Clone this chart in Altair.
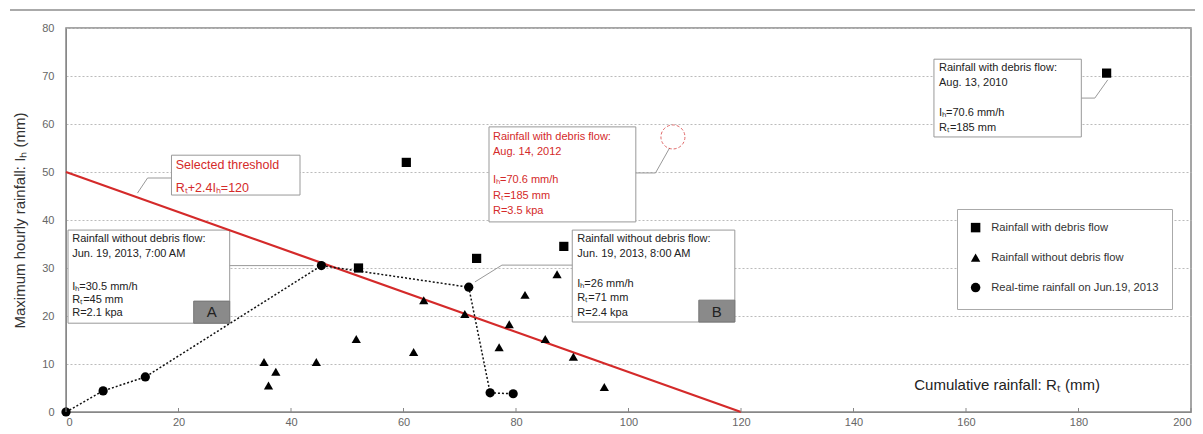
import altair as alt
import pandas as pd

# ---------------- data ----------------
debris_x = [60.5, 52.0, 73.0, 88.5, 185.0]
debris_y = [52.0, 30.0, 32.0, 34.5, 70.6]

nodebris_x = [35.2, 37.3, 36.0, 44.5, 51.6, 61.8, 63.6, 70.9, 77.0, 78.8, 81.6, 85.2, 87.3, 90.2, 95.7]
nodebris_y = [10.4, 8.4, 5.5, 10.4, 15.2, 12.5, 23.3, 20.4, 13.5, 18.3, 24.4, 15.2, 28.7, 11.5, 5.2]

realtime_x = [0.0, 6.6, 14.1, 45.4, 71.6, 75.4, 79.5]
realtime_y = [0.0, 4.4, 7.3, 30.5, 26.0, 4.0, 3.8]

threshold_x = [0, 120]
threshold_y = [50, 0]

series_names = ["Rainfall with debris flow", "Rainfall without debris flow",
                "Real-time rainfall on Jun.19, 2013"]

x_ticks = list(range(0, 201, 20))
y_ticks = list(range(0, 81, 10))

RED = "#d42a2a"
DARK = "#222222"

# annotation boxes
box_x = [0.36, 18.75, 75.2, 90.0, 154.3]
box_x2 = [29.1, 41.6, 101.3, 118.9, 180.5]
box_y = [37.9, 53.5, 59.4, 37.9, 73.5]
box_y2 = [18.5, 45.2, 39.6, 18.75, 57.3]

tag_x = [22.7, 112.5]
tag_x2 = [29.1, 118.9]
tag_y = [23.1, 23.3]
tag_y2 = [18.5, 18.75]
tag_text = ["A", "B"]
tag_cx = [25.9, 115.7]
tag_cy = [20.8, 20.9]

# annotation text lines
ann_text = [
    "Rainfall without debris flow:", "Jun. 19, 2013, 7:00 AM",
    "Iₕ=30.5 mm/h", "Rₜ=45 mm", "R=2.1 kpa",
    "Selected threshold", "Rₜ+2.4Iₕ=120",
    "Rainfall with debris flow:", "Aug. 14, 2012",
    "Iₕ=70.6 mm/h", "Rₜ=185 mm", "R=3.5 kpa",
    "Rainfall without debris flow:", "Jun. 19, 2013, 8:00 AM",
    "Iₕ=26 mm/h", "Rₜ=71 mm", "R=2.4 kpa",
    "Rainfall with debris flow:", "Aug. 13, 2010",
    "Iₕ=70.6 mm/h", "Rₜ=185 mm",
]
ann_x = [1.1] * 5 + [19.5] * 2 + [75.9] * 5 + [90.9] * 5 + [155.2] * 4
ann_y = [36.04, 32.92, 26.04, 23.33, 20.63,
         51.46, 46.67,
         57.29, 54.17, 48.33, 45.0, 41.88,
         36.04, 32.92, 26.67, 23.75, 20.63,
         71.67, 68.54, 62.29, 59.17]
ann_color = [DARK] * 5 + [RED] * 2 + [RED] * 5 + [DARK] * 5 + [DARK] * 4
ann_size = [11] * 5 + [12.5] * 2 + [11] * 14

# leader line segments
seg_x = [18.75, 14.5, 29.1, 101.3, 104.8, 90.0, 77.5, 180.5, 182.9]
seg_y = [48.75, 48.75, 30.5, 49.8, 49.8, 30.6, 30.6, 65.4, 65.4]
seg_x2 = [14.5, 12.7, 44.0, 104.8, 107.3, 77.5, 72.7, 182.9, 185.2]
seg_y2 = [48.75, 45.6, 30.5, 49.8, 55.0, 30.6, 27.1, 65.4, 69.2]

circle_x = [107.9]
circle_y = [57.3]

# ---------------- tables ----------------
pts = pd.DataFrame({
    "x": debris_x + nodebris_x + realtime_x,
    "y": debris_y + nodebris_y + realtime_y,
    "type": [series_names[0]] * len(debris_x) + [series_names[1]] * len(nodebris_x)
            + [series_names[2]] * len(realtime_x),
})
rt = pd.DataFrame({"x": realtime_x, "y": realtime_y, "order": list(range(len(realtime_x)))})
thr = pd.DataFrame({"x": threshold_x, "y": threshold_y})
boxes = pd.DataFrame({"x": box_x, "x2": box_x2, "y": box_y, "y2": box_y2})
tags = pd.DataFrame({"x": tag_x, "x2": tag_x2, "y": tag_y, "y2": tag_y2})
tag_lbl = pd.DataFrame({"x": tag_cx, "y": tag_cy, "t": tag_text})
ann = pd.DataFrame({"x": ann_x, "y": ann_y, "t": ann_text, "c": ann_color, "s": ann_size})
segs = pd.DataFrame({"x": seg_x, "y": seg_y, "x2": seg_x2, "y2": seg_y2})
circ = pd.DataFrame({"x": circle_x, "y": circle_y})
xt = pd.DataFrame({"x": x_ticks})
xtitle = pd.DataFrame({"x": [167.3], "y": [5.6], "t": ["Cumulative rainfall: Rₜ (mm)"]})

FONT = "Liberation Sans"

xs = alt.Scale(domain=[0, 200], nice=False, zero=False)
ys = alt.Scale(domain=[0, 80], nice=False, zero=False)

x_axis = alt.Axis(values=x_ticks, grid=False, ticks=False, labelColor="#666",
                  labelFontSize=11, labelFont=FONT, labelPadding=4,
                  domainColor="#888", title=None)
y_axis = alt.Axis(values=y_ticks, grid=True, gridDash=[2, 2], gridColor="#bbbbbb",
                  ticks=False, labelColor="#666", labelFontSize=11, labelFont=FONT,
                  labelPadding=12, domainColor="#888",
                  title="Maximum hourly rainfall: Iₕ (mm)", titleFont=FONT,
                  titleFontSize=15, titleFontWeight="normal", titleColor="#333",
                  titlePadding=14)

X = alt.X("x:Q", scale=xs, axis=x_axis)
Y = alt.Y("y:Q", scale=ys, axis=y_axis)

base_rect = alt.Chart(boxes).mark_rect(fill="white", stroke="#999", strokeWidth=1).encode(
    x=X, x2="x2:Q", y=Y, y2="y2:Q")

tag_rect = alt.Chart(tags).mark_rect(fill="#8a8a8a", stroke="#777").encode(
    x=X, x2="x2:Q", y=Y, y2="y2:Q")

tag_txt = alt.Chart(tag_lbl).mark_text(font=FONT, fontSize=15, color=DARK,
                                       align="center", baseline="middle").encode(
    x=X, y=Y, text="t:N")

seg_layer = alt.Chart(segs).mark_rule(color="#999", strokeWidth=1).encode(
    x=X, y=Y, x2="x2:Q", y2="y2:Q")

thr_line = alt.Chart(thr).mark_line(color=RED, strokeWidth=2.2).encode(x=X, y=Y)

rt_line = alt.Chart(rt).mark_line(color="#111", strokeWidth=1.5, strokeDash=[2, 2]).encode(
    x=X, y=Y, order="order:Q")

points = alt.Chart(pts).mark_point(filled=True, opacity=1, color="black", size=85).encode(
    x=X, y=Y,
    shape=alt.Shape("type:N",
                    scale=alt.Scale(domain=series_names,
                                    range=["square", "triangle-up", "circle"]),
                    legend=alt.Legend(orient="none", legendX=891, legendY=181, title=None,
                                      padding=13, rowPadding=14, strokeColor="#aaa",
                                      fillColor="white", labelFont=FONT, labelFontSize=11.2,
                                      labelColor="#333", labelOffset=10, labelLimit=400,
                                      symbolSize=90,
                                      symbolFillColor="black", symbolStrokeColor="black",
                                      symbolType="circle")),
)

ann_layer = alt.Chart(ann).mark_text(font=FONT, align="left", baseline="middle").encode(
    x=X, y=Y, text="t:N",
    color=alt.Color("c:N", scale=None),
    size=alt.Size("s:Q", scale=None))

circ_layer = alt.Chart(circ).mark_point(shape="circle", size=576, filled=False, color=RED,
                                        strokeWidth=1, strokeDash=[3, 2]).encode(x=X, y=Y)

xtick_layer = alt.Chart(xt).mark_rule(color="#888").encode(
    x=X, y=alt.value(384), y2=alt.value(380))

xtitle_layer = alt.Chart(xtitle).mark_text(font=FONT, fontSize=15, color=DARK,
                                           align="center", baseline="middle").encode(
    x=X, y=Y, text="t:N")

frame = alt.Chart(xt).mark_rule(color="#aaa", strokeWidth=1.5).encode(
    x=alt.value(-56), x2=alt.value(1137), y=alt.value(-18))

chart = alt.layer(
    base_rect, tag_rect, tag_txt, seg_layer, thr_line, rt_line, points,
    circ_layer, ann_layer, xtick_layer, xtitle_layer, frame
).properties(
    width=1125, height=384,
    autosize=alt.AutoSizeParams(type="none"),
    padding={"left": 58, "top": 20, "right": 4, "bottom": 22},
).configure_view(stroke="#888", strokeWidth=1.5)

chart.save("out.html", embed_options={"renderer": "svg", "actions": False})
